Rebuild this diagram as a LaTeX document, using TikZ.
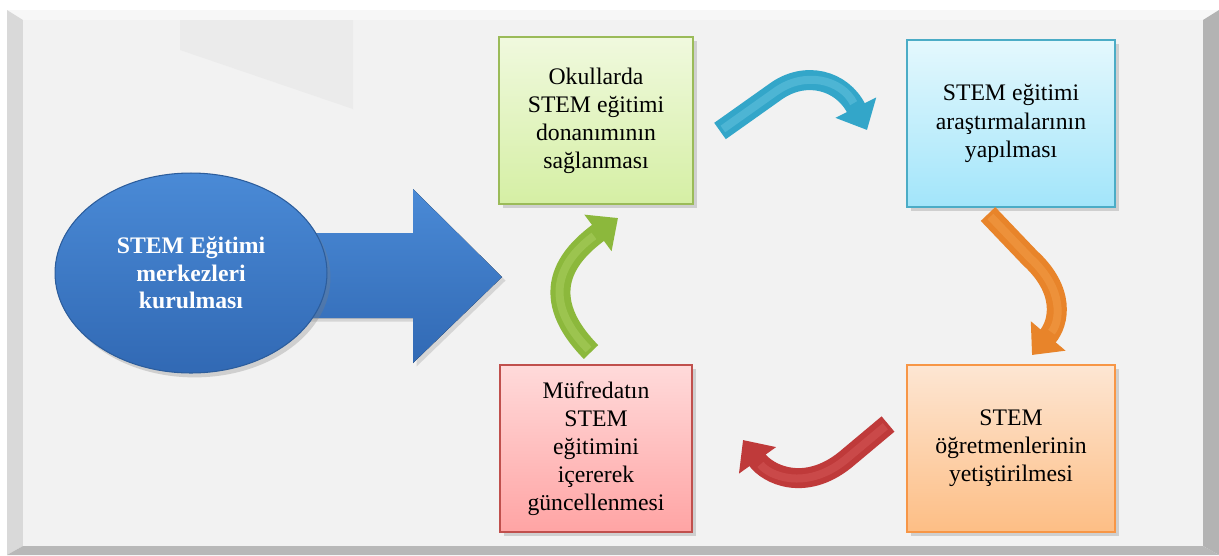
\documentclass[tikz,border=0pt]{standalone}
\usepackage{fontspec}
\setmainfont{Liberation Serif}
\usetikzlibrary{shapes.geometric,arrows.meta,shadows}

\definecolor{zemin}{HTML}{F2F2F2}
\definecolor{cerceveust}{HTML}{F7F7F7}
\definecolor{cercevesol}{HTML}{D9D9D9}
\definecolor{cerceveyan}{HTML}{B3B3B3}
\definecolor{cercevealt}{HTML}{B8B8B8}
\definecolor{yansima}{HTML}{EBEBEB}
\definecolor{maviust}{HTML}{4A8AD6}
\definecolor{mavialt}{HTML}{3169B4}
\definecolor{mavikenar}{HTML}{2C5D9C}
\definecolor{yesilkenar}{HTML}{9BBB59}
\definecolor{yesilust}{HTML}{F0F9DE}
\definecolor{yesilalt}{HTML}{D5EFA4}
\definecolor{camkenar}{HTML}{4BACC6}
\definecolor{camust}{HTML}{E4F8FD}
\definecolor{camalt}{HTML}{A2E5FA}
\definecolor{turkenar}{HTML}{F79646}
\definecolor{turust}{HTML}{FDE6D3}
\definecolor{turalt}{HTML}{FDBE85}
\definecolor{kirkenar}{HTML}{C0504D}
\definecolor{kirust}{HTML}{FFDADA}
\definecolor{kiralt}{HTML}{FFA4A4}
\definecolor{okcam}{HTML}{33A6C9}
\definecolor{okcamacik}{HTML}{8AD8EE}
\definecolor{oktur}{HTML}{E8842A}
\definecolor{okturacik}{HTML}{FAB262}
\definecolor{okkir}{HTML}{BF3A3A}
\definecolor{okkiracik}{HTML}{E56D6D}
\definecolor{okyes}{HTML}{8CB83C}
\definecolor{okyesacik}{HTML}{C2E27E}

\tikzset{
	kutu/.style={draw, line width=1.1pt, minimum height=3.34cm, inner sep=0pt, align=center,
		font=\fontsize{13.5}{16}\selectfont,
		drop shadow={shadow xshift=2pt, shadow yshift=-2.5pt, opacity=0.3}},
	bukum/.style={line width=0.4cm, -{Triangle[length=0.5cm,width=0.88cm]}},
	parilti/.style={line width=0.16cm, opacity=0.3, shorten >=0.6cm, shorten <=2pt}
}

\begin{document}
\begin{tikzpicture}[x=0.02cm, y=-0.02cm]
	\useasboundingbox (0,0) rectangle (1219,555);
	
	% cerceve
	\fill[white] (0,0) rectangle (1219,555);
	\fill[cerceveust] (7,10) -- (1219,10) -- (1203,20) -- (23,20) -- cycle;
	\fill[cercevesol] (7,10) -- (23,20) -- (23,546) -- (7,555) -- cycle;
	\fill[cerceveyan] (1219,10) -- (1219,555) -- (1203,546) -- (1203,20) -- cycle;
	\fill[cercevealt] (7,555) -- (1219,555) -- (1203,546) -- (23,546) -- cycle;
	\fill[zemin] (23,20) rectangle (1203,546);
	\fill[yansima] (180,20) -- (353,20) -- (353,109) -- (180,50) -- cycle;
	
	% buyuk ok ve elips
	\fill[top color=maviust, bottom color=mavialt, drop shadow={shadow xshift=2pt, shadow yshift=-2pt, opacity=0.25}]
	(300,233) -- (413,233) -- (413,189) -- (502,277) -- (413,363) -- (413,318) -- (300,318) -- cycle;
	\node[ellipse, draw=mavikenar, line width=0.6pt, top color=maviust, bottom color=mavialt,
		minimum width=5.44cm, minimum height=4cm, inner sep=0pt, align=center, text=white,
		font=\fontsize{13.5}{15.6}\selectfont\bfseries,
		drop shadow={shadow xshift=2pt, shadow yshift=-2.5pt, opacity=0.3}]
		(merkez) at (191,273) {STEM Eğitimi\\merkezleri\\kurulması};
	
	% kutular
	\node[kutu, draw=yesilkenar, top color=yesilust, bottom color=yesilalt, minimum width=3.88cm]
		(donanim) at (596,120.5) {Okullarda\\STEM eğitimi\\donanımının\\sağlanması};
	\node[kutu, draw=camkenar, top color=camust, bottom color=camalt, minimum width=4.16cm]
		(arastirma) at (1011,123.5) {STEM eğitimi\\araştırmalarının\\yapılması};
	\node[kutu, draw=turkenar, top color=turust, bottom color=turalt, minimum width=4.16cm]
		(ogretmen) at (1011,448.5) {STEM\\öğretmenlerinin\\yetiştirilmesi};
	\node[kutu, draw=kirkenar, top color=kirust, bottom color=kiralt, minimum width=3.84cm]
		(mufredat) at (596,448.5) {Müfredatın\\STEM\\eğitimini\\içererek\\güncellenmesi};
	
	% egri oklar
	\coordinate (c1) at (720,131);
	\coordinate (c2) at (867,130);
	\coordinate (c3) at (988,214);
	\coordinate (c4) at (1032,355);
	\coordinate (c5) at (888,424);
	\coordinate (c6) at (743,440);
	\coordinate (c7) at (591,352);
	\coordinate (c8) at (618,218);
	
	\draw[bukum, okcam] (c1) -- (775,92) .. controls (805,70) and (842,80) .. (c2);
	\draw[parilti, okcamacik] (c1) -- (775,92) .. controls (805,70) and (842,80) .. (c2);
	
	\draw[bukum, oktur] (c3) -- (1030,258) .. controls (1065,290) and (1060,322) .. (c4);
	\draw[parilti, okturacik] (c3) -- (1030,258) .. controls (1065,290) and (1060,322) .. (c4);
	
	\draw[bukum, okkir] (c5) -- (845,460) .. controls (805,492) and (768,475) .. (c6);
	\draw[parilti, okkiracik] (c5) -- (845,460) .. controls (805,492) and (768,475) .. (c6);
	
	\draw[bukum, okyes] (c7) .. controls (530,290) and (575,250) .. (c8);
	\draw[parilti, okyesacik] (c7) .. controls (530,290) and (575,250) .. (c8);
\end{tikzpicture}
\end{document}
